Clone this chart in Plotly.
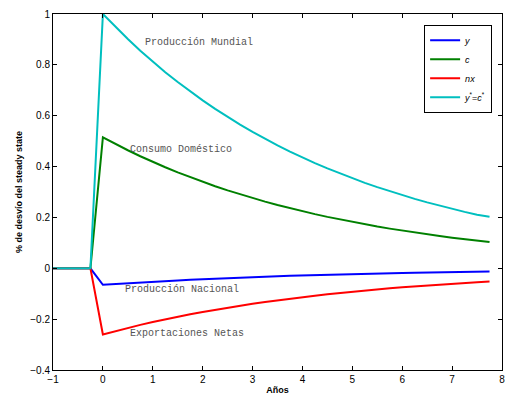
import plotly.graph_objects as go

# quarterly time axis (years)
t = [-1, -0.75, -0.5, -0.25] + [k * 0.25 for k in range(32)]

pre = [0, 0, 0, 0]
y_nat = pre + [-0.0650, -0.0617, -0.0586, -0.0556, -0.0528, -0.0501, -0.0476, -0.0452,
               -0.0429, -0.0407, -0.0387, -0.0367, -0.0349, -0.0331, -0.0314, -0.0298,
               -0.0283, -0.0269, -0.0255, -0.0242, -0.0230, -0.0218, -0.0207, -0.0197,
               -0.0187, -0.0178, -0.0168, -0.0160, -0.0152, -0.0144, -0.0137, -0.0130]
c_dom = pre + [0.5150, 0.4889, 0.4642, 0.4407, 0.4184, 0.3972, 0.3771, 0.3580,
               0.3399, 0.3227, 0.3064, 0.2909, 0.2762, 0.2622, 0.2490, 0.2363,
               0.2244, 0.2130, 0.2022, 0.1920, 0.1823, 0.1731, 0.1643, 0.1560,
               0.1481, 0.1406, 0.1335, 0.1267, 0.1203, 0.1142, 0.1085, 0.1030]
nx = pre + [-0.2600, -0.2468, -0.2344, -0.2225, -0.2112, -0.2005, -0.1904, -0.1808,
            -0.1716, -0.1629, -0.1547, -0.1468, -0.1394, -0.1324, -0.1257, -0.1193,
            -0.1133, -0.1076, -0.1021, -0.0969, -0.0920, -0.0874, -0.0830, -0.0788,
            -0.0748, -0.0710, -0.0674, -0.0640, -0.0608, -0.0577, -0.0548, -0.0520]
y_world = pre + [1.0000, 0.9494, 0.9014, 0.8557, 0.8124, 0.7713, 0.7323, 0.6952,
                 0.6601, 0.6267, 0.5949, 0.5648, 0.5363, 0.5091, 0.4834, 0.4589,
                 0.4357, 0.4137, 0.3927, 0.3728, 0.3540, 0.3361, 0.3191, 0.3029,
                 0.2876, 0.2731, 0.2592, 0.2461, 0.2337, 0.2218, 0.2106, 0.2030]

series_names = ["<i>y</i>", "<i>c</i>", "<i>nx</i>", "<i>y</i><sup>*</sup>=<i>c</i><sup>*</sup>"]
series_colors = ["#0000ff", "#008000", "#ff0000", "#00bfbf"]

x_ticks = [-1, 0, 1, 2, 3, 4, 5, 6, 7, 8]
x_ticklabels = ["\u22121", "0", "1", "2", "3", "4", "5", "6", "7", "8"]
y_ticks = [-0.4, -0.2, 0, 0.2, 0.4, 0.6, 0.8, 1]
y_ticklabels = ["\u22120.4", "\u22120.2", "0", "0.2", "0.4", "0.6", "0.8", "1"]

ann_text = ["Producción Mundial", "Consumo Doméstico", "Producción Nacional", "Exportaciones Netas"]
ann_x = [0.8, 0.5, 0.4, 0.5]
ann_y = [0.889, 0.466, -0.084, -0.258]

fig = go.Figure()
for vals, name, col in zip([y_nat, c_dom, nx, y_world], series_names, series_colors):
    fig.add_trace(go.Scatter(x=t, y=vals, mode="lines", name=name,
                             line=dict(color=col, width=2)))

for txt, ax_, ay_ in zip(ann_text, ann_x, ann_y):
    fig.add_annotation(x=ax_, y=ay_, text=txt, showarrow=False, xanchor="left",
                       yanchor="middle",
                       font=dict(family="Liberation Mono, Courier New, monospace", size=10, color="#555555"))

axis_common = dict(showline=True, linecolor="black", linewidth=1, mirror="ticks",
                   ticks="inside", ticklen=4, tickcolor="black", showgrid=False,
                   zeroline=False, automargin=False,
                   tickfont=dict(family="Liberation Sans, Arial", size=10, color="black"))

fig.update_layout(
    width=506, height=402,
    margin=dict(l=53, r=4, t=14, b=32),
    paper_bgcolor="white", plot_bgcolor="white",
    xaxis=dict(range=[-1, 8], tickvals=x_ticks, ticktext=x_ticklabels,
               title=dict(text="<b>Años</b>", font=dict(family="Liberation Sans, Arial", size=9, color="black"), standoff=2),
               **axis_common),
    yaxis=dict(range=[-0.4, 1], tickvals=y_ticks, ticktext=y_ticklabels,
               title=dict(text="<b>% de desvío del steady state</b>", font=dict(family="Liberation Sans, Arial", size=9, color="black"), standoff=6),
               **axis_common),
    legend=dict(x=0.978, y=0.97, xanchor="right", yanchor="top",
                bordercolor="black", borderwidth=1, bgcolor="white",
                font=dict(family="Liberation Sans, Arial", size=9, color="black"),
                itemwidth=30, tracegroupgap=0),
    showlegend=True,
)

fig.write_html("out.html", config={"displayModeBar": False},
               post_script="document.body.style.margin='0';")
